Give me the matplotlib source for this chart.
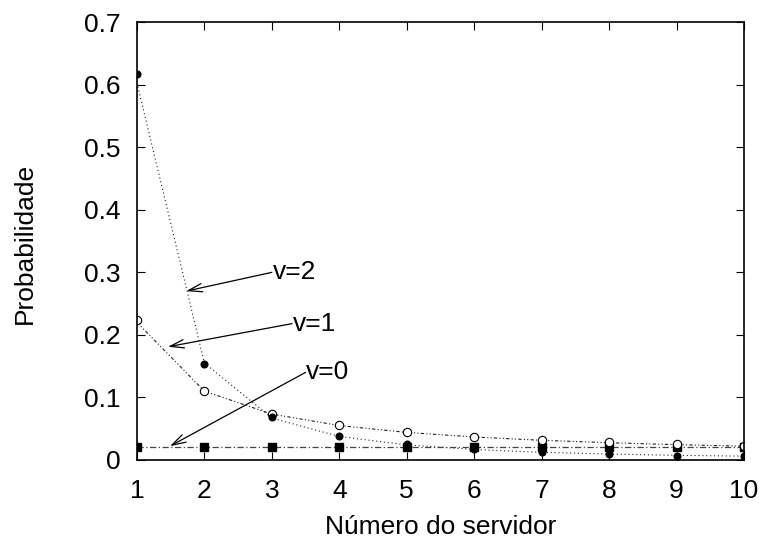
import matplotlib
matplotlib.use("Agg")
import matplotlib.pyplot as plt

plt.rcParams['font.family'] = ['Liberation Sans', 'DejaVu Sans']

# Número do servidor
servidor = [1, 2, 3, 4, 5, 6, 7, 8, 9, 10]

# pontos medidos
p_v2 = [0.617, 0.154, 0.068, 0.038, 0.025, 0.018, 0.012, 0.009, 0.007, 0.0055]
p_v1 = [0.223, 0.111, 0.074, 0.056, 0.045, 0.037, 0.032, 0.028, 0.025, 0.023]
p_v0 = [0.02, 0.02, 0.02, 0.02, 0.02, 0.02, 0.02, 0.02, 0.02, 0.02]

# curvas (valores teoricos)
c_v2 = [0.603, 0.155, 0.067, 0.0375, 0.024, 0.0167, 0.0122, 0.0094, 0.0074, 0.006]
c_v1 = [0.22, 0.11, 0.0733, 0.055, 0.044, 0.0367, 0.0314, 0.0275, 0.0244, 0.022]
c_v0 = [0.02, 0.02, 0.02, 0.02, 0.02, 0.02, 0.02, 0.02, 0.02, 0.02]

FS = 19

fig = plt.figure(figsize=(7.65, 5.43), dpi=100)
ax = fig.add_axes([0.179, 0.153, 0.7935, 0.806])

ax.plot(servidor, c_v2, color='#222222', lw=0.8, linestyle=(0, (1, 2.5)))
ax.plot(servidor, c_v1, color='#222222', lw=0.8, linestyle=(0, (3, 2, 1, 2, 1, 2)))
ax.plot(servidor, c_v0, color='#444444', lw=0.9, linestyle=(0, (5, 2, 1, 2)))

ax.plot(servidor, p_v0, 's', color='black', markersize=5.5, linestyle='none')
ax.plot(servidor, p_v1, 'o', mfc='white', mec='black', mew=0.8, markersize=6, linestyle='none')
ax.plot(servidor, p_v2, 'o', color='black', markersize=4.8, linestyle='none')

# rotulos com setas
setas = [("v=2", (3.0, 0.30), (1.73, 0.27)),
         ("v=1", (3.3, 0.218), (1.46, 0.181)),
         ("v=0", (3.5, 0.14), (1.49, 0.022))]
for txt, xy_txt, xy_tip in setas:
    ax.annotate("", xy=xy_tip, xytext=xy_txt,
                arrowprops=dict(arrowstyle='->,head_length=1.0,head_width=0.3',
                                color='black', lw=0.9, shrinkA=0, shrinkB=0))
    ax.text(xy_txt[0] + 0.01, xy_txt[1], txt, fontsize=FS, ha='left', va='center')

ax.set_xlim(1, 10)
ax.set_ylim(0, 0.7)
ax.set_xticks(servidor)
ax.set_xticklabels([str(s) for s in servidor])
ax.set_yticks([0, 0.1, 0.2, 0.3, 0.4, 0.5, 0.6, 0.7])
ax.set_yticklabels(['0', '0.1', '0.2', '0.3', '0.4', '0.5', '0.6', '0.7'])
ax.tick_params(direction='in', length=6, width=0.8, top=True, right=True,
               labelsize=FS, colors='black')
ax.tick_params(axis='x', pad=14)
ax.tick_params(axis='y', pad=12)
for s in ax.spines.values():
    s.set_linewidth(1.2)

ax.set_xlabel("Número do servidor", fontsize=FS, va='baseline')
ax.xaxis.set_label_coords(0.5, -0.169)
ax.set_ylabel("Probabilidade", fontsize=FS, va='baseline')
ax.yaxis.set_label_coords(-0.1725, 0.495)

fig.savefig("out.png", dpi=100)
